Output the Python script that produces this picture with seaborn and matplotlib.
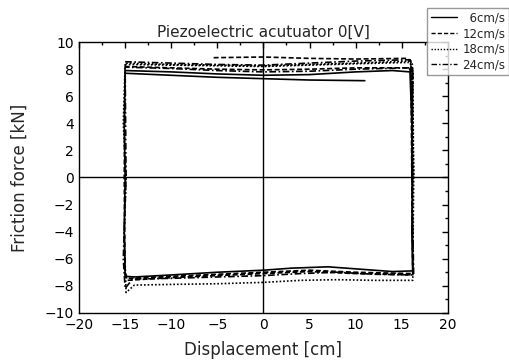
import numpy as np
import pandas as pd
import matplotlib
matplotlib.use("Agg")
import matplotlib.pyplot as plt
import seaborn as sns

sns.set_style("white")
plt.rcParams['font.family'] = ['DejaVu Sans']

labels = ["\u20076cm/s", "12cm/s", "18cm/s", "24cm/s"]
styles = ["-", (0, (3, 1.5)), (0, (1, 1.2)), (0, (4, 1.5, 1, 1.5))]

x_6 = [-15.0, -10, -5, 0, 5, 10, 14, 15.9, 16.1, 16.2, 16.1, 16.2, 14, 10, 7, 3, 0, -5, -10, -14, -15.0,
       -15.1, -15.0, -15.1, -15.0, -10, -5, 0, 5, 11]
y_6 = [7.9, 7.8, 7.65, 7.55, 7.6, 7.8, 7.9, 7.8, 4.0, 0.0, -4.0, -6.9, -6.95, -6.75, -6.6, -6.7, -6.85, -7.0, -7.2, -7.35, -7.3,
       -4.0, 0.0, 4.0, 7.7, 7.55, 7.4, 7.3, 7.2, 7.15]

x_12 = [-5.4, 0, 5, 10, 15.5, 16.0, 16.1, 16.2, 10, 5, 0, -5, -10, -14.5, -15.0, -15.1, -15.0, -10, -5, 0, 5, 10, 15.8, 16.1,
        16.2, 10, 5, 0, -5, -10, -14.8, -15.1]
y_12 = [8.85, 8.9, 8.8, 8.75, 8.8, 8.6, 0.0, -7.1, -7.0, -6.85, -7.0, -7.15, -7.3, -7.45, -7.2, 0.0, 8.2, 8.1, 8.0, 7.95, 8.0, 8.1, 8.1, 7.6,
        -7.2, -7.1, -6.95, -7.1, -7.25, -7.4, -7.6, -6.5]

x_18 = [-15.0, -10, -5, 0, 5, 10, 15.8, 16.1, 16.3, 16.2, 12, 8, 4, 0, -5, -10, -14.0, -14.9, -15.1, -14.9, -15.2,
        -15.0, -10, -5, 0, 5, 10, 15.9, 16.2, 16.3]
y_18 = [8.35, 8.3, 8.25, 8.2, 8.3, 8.4, 8.5, 8.2, 0.0, -7.6, -7.6, -7.55, -7.6, -7.75, -7.85, -7.9, -7.95, -8.5, -4.0, 0.0, 4.0,
        8.45, 8.35, 8.3, 8.25, 8.35, 8.45, 8.6, 7.8, 0.0]

x_24 = [-15.0, -10, -5, 0, 5, 10, 15.9, 16.2, 16.1, 16.3, 12, 8, 4, 0, -5, -10, -14.2, -15.0, -15.2, -14.9, -15.0,
        -10, -5, 0, 5, 10, 15.9, 16.2, 16.1]
y_24 = [8.55, 8.45, 8.35, 8.3, 8.45, 8.6, 8.7, 8.3, 0.0, -7.2, -7.15, -7.0, -7.1, -7.25, -7.35, -7.45, -7.5, -8.2, -6.0, 0.0, 8.15,
        8.05, 7.9, 7.8, 7.85, 8.0, 8.1, 7.7, 0.0]

series = [(x_6, y_6), (x_12, y_12), (x_18, y_18), (x_24, y_24)]

fig = plt.figure(figsize=(5.1, 3.6), dpi=100)
ax = fig.add_axes([0.155, 0.131, 0.723, 0.752])

for (xs, ys), lab, ls in zip(series, labels, styles):
    df = pd.DataFrame({"x": xs, "y": ys})
    sns.lineplot(data=df, x="x", y="y", sort=False, estimator=None, color="black",
                 linestyle=ls, linewidth=1.2, label=lab, ax=ax)

ax.axhline(0, color="black", linewidth=1.0)
ax.axvline(0, color="black", linewidth=1.0)

ax.set_xlim(-20, 20)
ax.set_ylim(-10, 10)
ax.set_xticks(np.arange(-20, 21, 5))
ax.set_yticks(np.arange(-10, 11, 2))
ax.set_xticks(np.arange(-20, 21, 2.5), minor=True)
ax.set_yticks(np.arange(-10, 11, 1), minor=True)
ax.tick_params(which="both", direction="in", top=True, right=True, labelsize=10, colors="black")
ax.tick_params(which="major", length=4, width=1)
ax.tick_params(which="minor", length=2, width=1)
for sp in ax.spines.values():
    sp.set_color("black")
    sp.set_linewidth(1.0)

ax.set_xlabel("Displacement [cm]", fontsize=12, labelpad=7)
ax.set_ylabel("Friction force [kN]", fontsize=12, labelpad=12)
ax.set_title("Piezoelectric acutuator 0[V]", fontsize=11, pad=4)

ax.get_legend().remove()
h, l = ax.get_legend_handles_labels()
leg = fig.legend(h, l, loc="upper right", bbox_to_anchor=(0.998, 1 - 8 / 360), fontsize=8.5,
                 frameon=True, fancybox=False, edgecolor="gray", borderaxespad=0.0,
                 handlelength=2.2, labelspacing=0.22, borderpad=0.3, handletextpad=0.5)
leg.get_frame().set_linewidth(1.0)
for line in leg.get_lines():
    line.set_linewidth(1.0)

fig.savefig("out.png", dpi=100)
